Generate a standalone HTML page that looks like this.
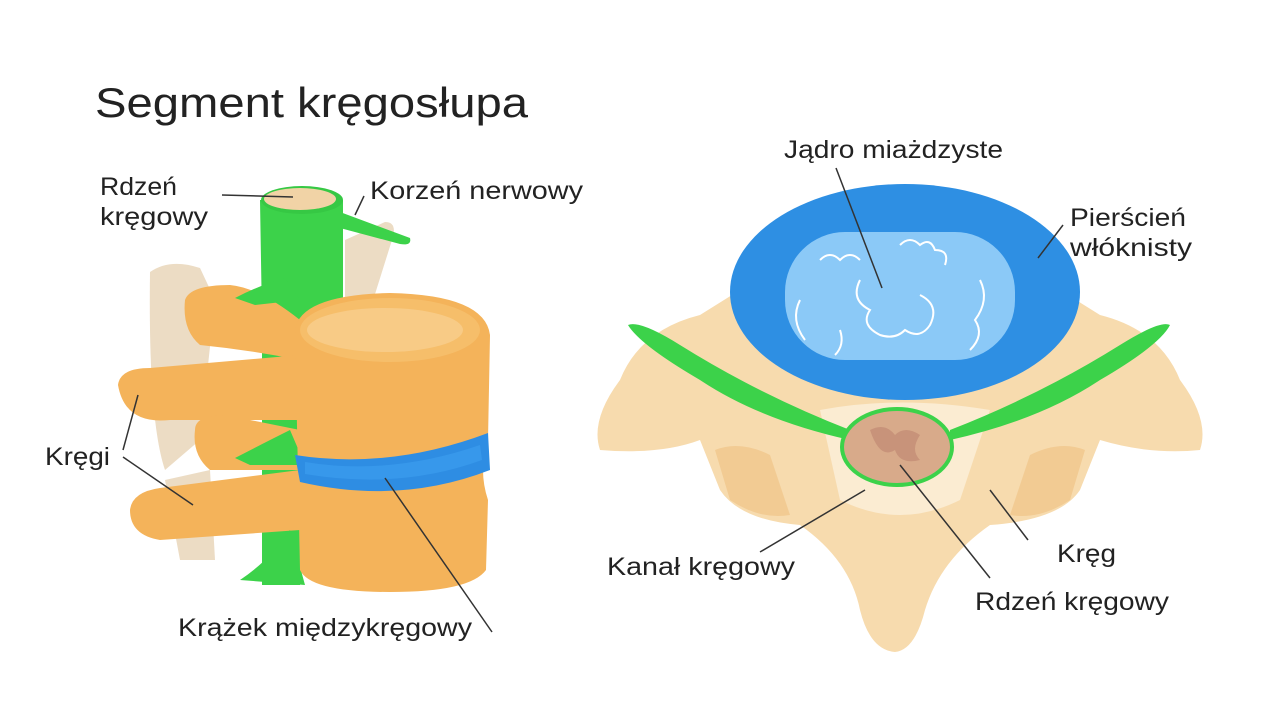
<!DOCTYPE html>
<html><head><meta charset="utf-8"><style>
html,body{margin:0;padding:0;background:#fff;}
text{font-family:"Liberation Sans",sans-serif;fill:#222;}
</style></head><body>
<svg width="1280" height="720" viewBox="0 0 1280 720" xmlns="http://www.w3.org/2000/svg">
<rect width="1280" height="720" fill="#fff"/>
<text x="95" y="117" font-size="42" textLength="433" lengthAdjust="spacingAndGlyphs">Segment kręgosłupa</text>

<!-- left figure: back pale vertebrae -->
<path d="M150,272 Q170,258 200,268 L215,300 L200,440 L165,470 Q148,420 150,272Z" fill="#ECDCC4"/>
<path d="M345,240 L385,222 Q398,222 392,240 L370,310 L345,320Z" fill="#ECDCC4"/>
<path d="M165,480 L210,470 L215,560 L180,560Z" fill="#ECDCC4"/>
<!-- green cord -->
<path d="M260,200 L343,200 L343,320 L300,330 L300,585 L262,585 L262,320Z" fill="#3CD24A"/>
<ellipse cx="302" cy="200" rx="41" ry="14" fill="#36C844"/>
<ellipse cx="300" cy="199" rx="36" ry="11" fill="#F1D3A6"/>
<path d="M340,212 L410,238 Q412,246 400,244 L340,228Z" fill="#3CD24A"/>
<!-- orange processes -->
<path d="M185,300 Q190,285 230,285 Q260,288 300,320 L300,360 Q250,350 200,345 Q182,330 185,300Z" fill="#F4B35A"/>
<path d="M118,385 Q120,368 150,368 L300,355 L300,420 L170,420 Q125,425 118,385Z" fill="#F4B35A"/>
<path d="M195,430 Q195,415 225,415 L300,430 L300,470 L210,470 Q192,455 195,430Z" fill="#F4B35A"/>
<path d="M130,510 Q132,492 160,488 L300,470 L300,530 L160,540 Q130,535 130,510Z" fill="#F4B35A"/>
<!-- green roots -->
<path d="M235,298 Q260,285 285,278 L300,300 L255,305Z" fill="#3CD24A"/>
<path d="M235,458 Q260,445 290,430 L305,465 L250,465Z" fill="#3CD24A"/>
<path d="M240,580 Q270,560 290,530 L305,585Z" fill="#3CD24A"/>
<!-- vertebra body -->
<path d="M295,330 Q300,295 390,293 Q485,295 490,335 L488,440 Q478,470 488,500 L486,570 Q470,592 390,592 Q310,592 300,570Z" fill="#F4B35A"/>
<ellipse cx="390" cy="330" rx="90" ry="32" fill="#F6BE6A"/>
<ellipse cx="385" cy="330" rx="78" ry="22" fill="#F8CB86"/>
<path d="M295,455 Q390,470 488,433 L490,470 Q400,505 300,482Z" fill="#2E8DE3"/>
<path d="M305,462 Q390,476 480,445 L482,460 Q400,490 305,474Z" fill="#3DA0F0" opacity=".6"/>
<!-- left connectors -->
<g stroke="#333" stroke-width="1.5" fill="none">
<line x1="222" y1="195" x2="293" y2="197"/>
<line x1="364" y1="196" x2="355" y2="215"/>
<line x1="123" y1="450" x2="138" y2="395"/>
<line x1="123" y1="457" x2="193" y2="505"/>
<line x1="385" y1="478" x2="492" y2="632"/>
</g>
<text x="100" y="195" font-size="25" textLength="77" lengthAdjust="spacingAndGlyphs">Rdzeń</text>
<text x="100" y="225" font-size="25" textLength="108" lengthAdjust="spacingAndGlyphs">kręgowy</text>
<text x="370" y="199" font-size="25" textLength="213" lengthAdjust="spacingAndGlyphs">Korzeń nerwowy</text>
<text x="45" y="465" font-size="25" textLength="65" lengthAdjust="spacingAndGlyphs">Kręgi</text>
<text x="178" y="636" font-size="25" textLength="294" lengthAdjust="spacingAndGlyphs">Krążek międzykręgowy</text>

<!-- right figure -->
<path d="M700,315 Q640,330 620,380 Q590,420 600,450 Q660,455 700,440 L720,490 Q740,520 800,525 Q850,560 860,610 Q870,650 895,652 Q915,650 925,610 Q940,560 990,525 Q1060,520 1080,490 L1100,440 Q1150,455 1200,450 Q1210,420 1180,380 Q1160,330 1100,315 L1060,290 L740,290Z" fill="#F7DBAE"/>
<path d="M715,450 Q740,440 770,455 L790,515 Q760,520 730,500Z" fill="#F2CB93"/>
<path d="M1085,450 Q1060,440 1030,455 L1010,515 Q1040,520 1070,500Z" fill="#F2CB93"/>
<path d="M820,410 Q900,395 990,410 L960,500 Q900,530 840,500Z" fill="#FBECD2"/>
<ellipse cx="905" cy="292" rx="175" ry="108" fill="#2E8FE3"/>
<rect x="785" y="232" width="230" height="128" rx="60" fill="#8BC9F7"/>
<g stroke="#fff" stroke-width="2" fill="none">
<path d="M820,260 q10,-10 20,0 q10,-10 20,0"/>
<path d="M800,300 q-10,20 5,40"/>
<path d="M860,280 q-10,20 10,30 q-10,15 10,25 q15,5 25,-5 q15,10 25,-5 q10,-20 -10,-30"/>
<path d="M900,245 q10,-10 20,0 q10,-8 15,5 q15,0 10,15"/>
<path d="M980,280 q10,20 -5,40 q10,15 -5,30"/>
<path d="M840,330 q5,15 -5,25"/>
</g>
<!-- nerves -->
<path d="M628,325 Q640,320 680,345 Q760,395 850,430 L850,440 Q760,420 700,380 Q640,345 628,325Z" fill="#3CD24A"/>
<path d="M1170,325 Q1160,320 1120,345 Q1040,395 950,430 L950,440 Q1040,420 1100,380 Q1160,345 1170,325Z" fill="#3CD24A"/>
<ellipse cx="897" cy="447" rx="55" ry="38" fill="#D8AA8A" stroke="#3CD24A" stroke-width="4"/>
<path d="M870,430 q15,-8 25,5 q10,-10 25,0 q-10,15 0,25 q-20,5 -25,-10 q-15,10 -25,-20Z" fill="#C8937A"/>
<g stroke="#333" stroke-width="1.5" fill="none">
<line x1="836" y1="168" x2="882" y2="288"/>
<line x1="1063" y1="225" x2="1038" y2="258"/>
<line x1="900" y1="465" x2="990" y2="578"/>
<line x1="760" y1="552" x2="865" y2="490"/>
<line x1="990" y1="490" x2="1028" y2="540"/>
</g>
<text x="784" y="158" font-size="25" textLength="219" lengthAdjust="spacingAndGlyphs">Jądro miażdzyste</text>
<text x="1070" y="226" font-size="25" textLength="116" lengthAdjust="spacingAndGlyphs">Pierścień</text>
<text x="1070" y="256" font-size="25" textLength="122" lengthAdjust="spacingAndGlyphs">włóknisty</text>
<text x="607" y="575" font-size="25" textLength="188" lengthAdjust="spacingAndGlyphs">Kanał kręgowy</text>
<text x="1057" y="562" font-size="25" textLength="59" lengthAdjust="spacingAndGlyphs">Kręg</text>
<text x="975" y="610" font-size="25" textLength="194" lengthAdjust="spacingAndGlyphs">Rdzeń kręgowy</text>
</svg>
</body></html>
